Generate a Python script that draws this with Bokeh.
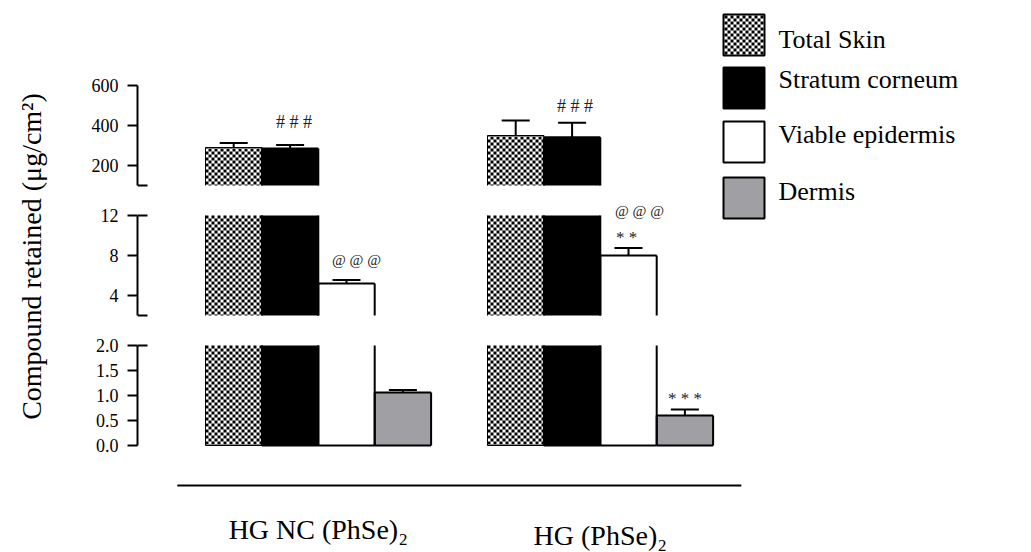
import math
from bokeh.plotting import figure
from bokeh.models import (Range1d, FixedTicker, Whisker, TeeHead, ColumnDataSource, Label,
                          GridBox, PrintfTickFormatter)
from bokeh.embed import file_html
from bokeh.resources import INLINE

# ---------------- data ----------------
groups = ["HG NC (PhSe)\u2082", "HG (PhSe)\u2082"]
layers = ["Total Skin", "Stratum corneum", "Viable epidermis", "Dermis"]

total_skin = [290, 350]
total_skin_err = [22, 75]
stratum_corneum = [285, 341]
stratum_corneum_err = [18, 73]
viable_epidermis = [5.2, 8.0]
viable_epidermis_err = [0.35, 0.75]
dermis = [1.06, 0.60]
dermis_err = [0.05, 0.12]

panel_ranges = [(100, 600), (2, 12), (0, 2)]
panel_ticks = [[200, 400, 600], [4, 8, 12], [0.0, 0.5, 1.0, 1.5, 2.0]]

annot_text = ["# # #", "# # #", "@ @ @", "@ @ @", "* *", "* * *"]
annot_group = [0, 1, 0, 1, 1, 1]
annot_layer = [1, 1, 2, 2, 2, 3]

y_label = "Compound retained (\u03bcg/cm\u00b2)"

# ---------------- styles / layout ----------------
FONT = "Liberation Serif"
means = [total_skin, stratum_corneum, viable_epidermis, dermis]
errs = [total_skin_err, stratum_corneum_err, viable_epidermis_err, dermis_err]
fills = ["white", "black", "white", "#a0a0a4"]
checker = [True, False, False, False]
edge_w = [1, 2, 2, 2]
CELL = 3  # checker cell, px

annot_dx = [4, 3, 10, 11, -2, 0]      # px
annot_dy = [23, 17, 20, 37, 11, 11]   # px above error-bar top
annot_size = ["18px", "18px", "15px", "15px", "17px", "17px"]

UNIT = 56.4          # px per bar
X0 = 205             # window px of first bar's left edge
COL0_W, COL1_W, COL2_W = 60, 660, 311
BORDER_L = 77
FRAME_L = COL0_W + BORDER_L
FRAME_R = COL0_W + COL1_W
STRIDE = len(layers) + 1
TOTAL_W = COL0_W + COL1_W + COL2_W
TOTAL_H = 552

# (figure top, hi tick px, lo tick px, figure bottom) in window px
panel_px = [(0, 85, 185, 200), (200, 215, 315, 330), (330, 345, 445, 462)]


def bar_left(g, l):
    return g * STRIDE + l


def checker_cells(left_px, right_px, top_px, bottom_px, grid_top):
    """black cells of a pixel-aligned checker texture inside a box (px)."""
    cells = []
    ncol = int(math.ceil((right_px - left_px) / CELL))
    j0 = int(math.floor((top_px - grid_top) / CELL))
    j1 = int(math.ceil((bottom_px - grid_top) / CELL))
    for i in range(ncol):
        x0 = left_px + i * CELL
        x1 = min(x0 + CELL, right_px)
        for j in range(j0, j1):
            if (i + j) % 2:
                continue
            y0 = max(grid_top + j * CELL, top_px)
            y1 = min(grid_top + (j + 1) * CELL, bottom_px)
            if y1 > y0:
                cells.append((x0, x1, y0, y1))
    return cells


panels = []
n_pan = len(panel_ranges)
for k, (lo, hi) in enumerate(panel_ranges):
    ftop, hi_px, lo_px, fbot = panel_px[k]
    ppu = (lo_px - hi_px) / (hi - lo)
    to_y = lambda py, lo=lo, lo_px=lo_px, ppu=ppu: lo + (lo_px - py) / ppu
    to_py = lambda v, lo=lo, lo_px=lo_px, ppu=ppu: lo_px - (v - lo) * ppu
    xr = Range1d((FRAME_L - X0) / UNIT, (FRAME_R - X0) / UNIT)
    yr = Range1d(to_y(fbot), to_y(ftop))
    p = figure(width=COL1_W, height=fbot - ftop, x_range=xr, y_range=yr,
               output_backend="svg", toolbar_location=None,
               x_axis_location=None, y_axis_location="left",
               min_border_left=BORDER_L, min_border_right=0,
               min_border_top=0, min_border_bottom=0,
               outline_line_color=None, background_fill_color="white",
               border_fill_color="white")
    p.grid.visible = False
    ax = p.yaxis[0]
    ax.ticker = FixedTicker(ticks=panel_ticks[k])
    ax.bounds = (lo, hi)
    ax.axis_line_width = 2
    ax.major_tick_line_width = 2
    ax.major_tick_out = 10
    ax.major_tick_in = 0
    ax.minor_tick_line_color = None
    ax.major_label_text_font = FONT
    ax.major_label_text_font_size = "18px"
    ax.major_label_text_color = "black"
    ax.major_label_standoff = 9
    if k == n_pan - 1:
        ax.formatter = PrintfTickFormatter(format="%.1f")

    edges = dict(x0=[], x1=[], y0=[], y1=[], w=[])
    for l in range(len(layers)):
        xs, tops = [], []
        for g in range(len(groups)):
            m = means[l][g]
            if m <= lo:
                continue
            top = min(m, hi)
            xl = bar_left(g, l)
            xs.append(xl + 0.5)
            tops.append(top)
            # outline pieces (no top edge where the bar runs through the break)
            segs = [(xl, xl, lo, top), (xl + 1, xl + 1, lo, top)]
            if m <= hi:
                segs.append((xl, xl + 1, top, top))
            if k == n_pan - 1:
                segs.append((xl, xl + 1, lo, lo))
            for a, b, c, d in segs:
                edges["x0"].append(a); edges["x1"].append(b)
                edges["y0"].append(c); edges["y1"].append(d)
                edges["w"].append(edge_w[l])
        if not xs:
            continue
        p.vbar(x=xs, top=tops, bottom=lo, width=1, fill_color=fills[l], line_color=None)
        if checker[l]:
            q = dict(left=[], right=[], top=[], bottom=[])
            for x, t in zip(xs, tops):
                lpx = X0 + (x - 0.5) * UNIT
                for (a, b, c, d) in checker_cells(lpx, lpx + UNIT, to_py(t), lo_px, hi_px):
                    q["left"].append((a - X0) / UNIT); q["right"].append((b - X0) / UNIT)
                    q["top"].append(to_y(c)); q["bottom"].append(to_y(d))
            p.quad(source=ColumnDataSource(q), left="left", right="right", top="top",
                   bottom="bottom", fill_color="black", line_color=None)
    p.segment(source=ColumnDataSource(edges), x0="x0", x1="x1", y0="y0", y1="y1",
              line_color="black", line_width="w")

    # error bars
    wx, wu, wl = [], [], []
    for l in range(len(layers)):
        for g in range(len(groups)):
            m = means[l][g]
            if lo < m <= hi:
                wx.append(bar_left(g, l) + 0.5)
                wu.append(m + errs[l][g])
                wl.append(m - errs[l][g])
    if wx:
        wsrc = ColumnDataSource(dict(x=wx, upper=wu, lower=wl))
        p.add_layout(Whisker(base="x", upper="upper", lower="lower", source=wsrc,
                             line_width=2, line_color="black",
                             upper_head=TeeHead(size=28, line_width=2, line_color="black"),
                             lower_head=TeeHead(size=28, line_width=2, line_color="black")))

    # axis break caps (inner ticks at broken ends)
    ends = []
    if k > 0:
        ends.append(hi)
    if k < n_pan - 1:
        ends.append(lo)
    if ends:
        p.segment(x0=[xr.start] * len(ends), x1=[xr.start + 10 / UNIT] * len(ends),
                  y0=ends, y1=ends, line_color="black", line_width=2)

    # significance annotations
    for i, t in enumerate(annot_text):
        g, l = annot_group[i], annot_layer[i]
        m = means[l][g]
        if lo < m <= hi:
            p.add_layout(Label(x=bar_left(g, l) + 0.5, y=m + errs[l][g], x_offset=annot_dx[i],
                               y_offset=annot_dy[i], text=t, text_align="center",
                               text_baseline="middle", text_font=FONT,
                               text_font_size=annot_size[i], text_color="#222222"))
    panels.append(p)

# ---- y-axis title figure ----
YL_H = panel_px[-1][3]
pyl = figure(width=COL0_W, height=YL_H, x_range=Range1d(0, 1), y_range=Range1d(0, 1),
             output_backend="svg", toolbar_location=None, x_axis_location=None,
             y_axis_location=None, min_border=0, outline_line_color=None)
pyl.grid.visible = False
pyl.add_layout(Label(x=31, y=YL_H - 256, x_units="screen", y_units="screen", text=y_label,
                     angle=math.pi / 2, text_align="center", text_baseline="middle",
                     text_font=FONT, text_font_size="28px", text_color="black"))

# ---- legend figure (pixel-unit ranges) ----
LG_H = panel_px[1][3]
pl = figure(width=COL2_W, height=LG_H, x_range=Range1d(0, COL2_W), y_range=Range1d(0, LG_H),
            output_backend="svg", toolbar_location=None, x_axis_location=None,
            y_axis_location=None, min_border=0, outline_line_color=None)
pl.grid.visible = False
box_left, box_size = 3, 41
box_tops = [14, 67, 121, 177]
text_mid = [39, 79, 134, 191]
pl.quad(left=[box_left] * len(layers), right=[box_left + box_size] * len(layers),
        top=[LG_H - t for t in box_tops], bottom=[LG_H - t - box_size for t in box_tops],
        fill_color=fills, line_color="black", line_width=2)
q = dict(left=[], right=[], top=[], bottom=[])
for l in range(len(layers)):
    if checker[l]:
        t = box_tops[l]
        for (a, b, c, d) in checker_cells(box_left + 1, box_left + box_size - 1,
                                          t + 1, t + box_size - 1, t + 1):
            q["left"].append(a); q["right"].append(b)
            q["top"].append(LG_H - c); q["bottom"].append(LG_H - d)
pl.quad(source=ColumnDataSource(q), left="left", right="right", top="top", bottom="bottom",
        fill_color="black", line_color=None)
for l, name in enumerate(layers):
    pl.add_layout(Label(x=58, y=LG_H - text_mid[l], text=name, text_align="left",
                        text_baseline="middle", text_font=FONT, text_font_size="26px",
                        text_color="black"))

# ---- bottom figure: group line and labels ----
BOT_TOP = panel_px[-1][3]
BOT_H = TOTAL_H - BOT_TOP
pb = figure(width=TOTAL_W, height=BOT_H,
            x_range=Range1d((0 - X0) / UNIT, (TOTAL_W - X0) / UNIT),
            y_range=Range1d(0, BOT_H), output_backend="svg", toolbar_location=None,
            x_axis_location=None, y_axis_location=None, min_border=0,
            outline_line_color=None)
pb.grid.visible = False
n = len(groups)
pb.segment(x0=[-0.5], x1=[(n - 1) * STRIDE + len(layers) + 0.5],
           y0=[TOTAL_H - 485], y1=[TOTAL_H - 485], line_color="black", line_width=2)
group_label_mid = [529, 534.5]
for g, name in enumerate(groups):
    pb.add_layout(Label(x=g * STRIDE + len(layers) / 2, y=TOTAL_H - group_label_mid[g],
                        text=name, text_align="center", text_baseline="middle",
                        text_font=FONT, text_font_size="28px", text_color="black"))

grid = GridBox(children=[
    (pyl, 0, 0, 3, 1),
    (panels[0], 0, 1), (panels[1], 1, 1), (panels[2], 2, 1),
    (pl, 0, 2, 2, 1),
    (pb, 3, 0, 1, 3),
], spacing=0)

open("out.html", "w").write(file_html(grid, INLINE))
